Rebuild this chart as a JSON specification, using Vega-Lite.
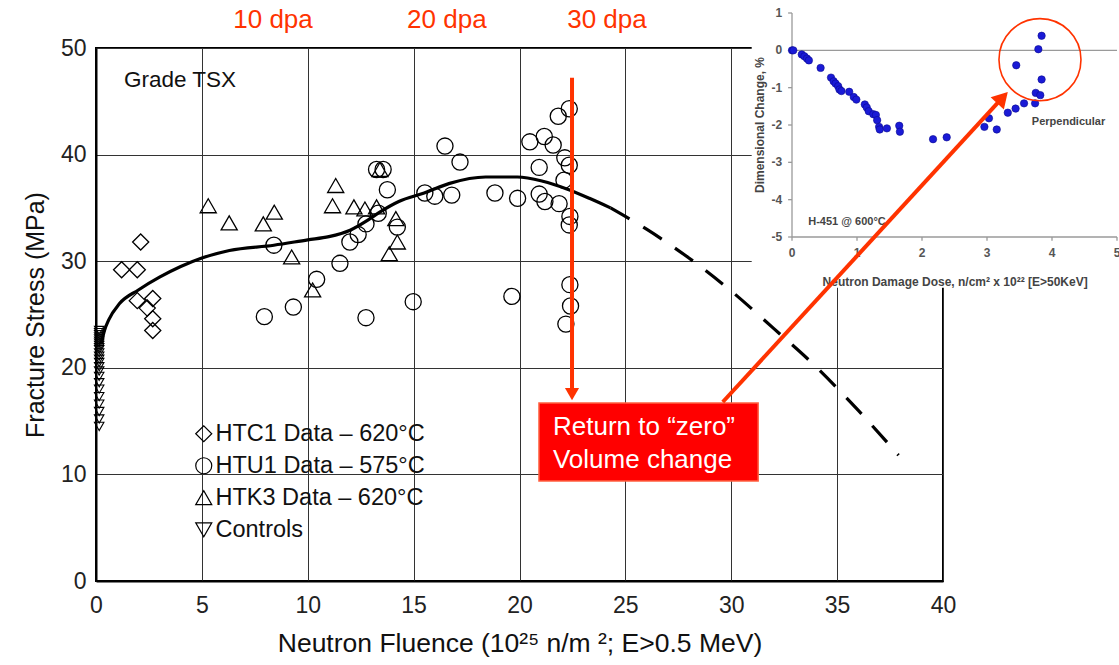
{
  "$schema": "https://vega.github.io/schema/vega-lite/v6.json",
  "width": 847,
  "height": 533,
  "autosize": {"type": "none"},
  "padding": {"left": 96, "top": 48, "right": 176, "bottom": 84},
  "background": "white",
  "config": {
    "view": {"stroke": "black", "strokeWidth": 2},
    "font": "Liberation Sans",
    "text": {"font": "Liberation Sans"}
  },
  "datasets": {
    "specimens": [
      {"series": "CTRL", "fluence": 0.15, "stress": 14.5},
      {"series": "CTRL", "fluence": 0.15, "stress": 15.2},
      {"series": "CTRL", "fluence": 0.15, "stress": 15.9},
      {"series": "CTRL", "fluence": 0.15, "stress": 16.6},
      {"series": "CTRL", "fluence": 0.15, "stress": 17.3},
      {"series": "CTRL", "fluence": 0.15, "stress": 18.0},
      {"series": "CTRL", "fluence": 0.15, "stress": 18.6},
      {"series": "CTRL", "fluence": 0.15, "stress": 19.2},
      {"series": "CTRL", "fluence": 0.15, "stress": 19.7},
      {"series": "CTRL", "fluence": 0.15, "stress": 20.1},
      {"series": "CTRL", "fluence": 0.15, "stress": 20.5},
      {"series": "CTRL", "fluence": 0.15, "stress": 20.8},
      {"series": "CTRL", "fluence": 0.15, "stress": 21.1},
      {"series": "CTRL", "fluence": 0.15, "stress": 21.4},
      {"series": "CTRL", "fluence": 0.15, "stress": 21.7},
      {"series": "CTRL", "fluence": 0.15, "stress": 21.9},
      {"series": "CTRL", "fluence": 0.15, "stress": 22.1},
      {"series": "CTRL", "fluence": 0.15, "stress": 22.3},
      {"series": "CTRL", "fluence": 0.15, "stress": 22.5},
      {"series": "CTRL", "fluence": 0.15, "stress": 22.7},
      {"series": "CTRL", "fluence": 0.15, "stress": 22.9},
      {"series": "CTRL", "fluence": 0.15, "stress": 23.1},
      {"series": "CTRL", "fluence": 0.15, "stress": 23.3},
      {"series": "CTRL", "fluence": 0.15, "stress": 23.5},
      {"series": "HTC1", "fluence": 2.11, "stress": 31.8},
      {"series": "HTC1", "fluence": 1.21, "stress": 29.2},
      {"series": "HTC1", "fluence": 1.95, "stress": 29.2},
      {"series": "HTC1", "fluence": 1.95, "stress": 26.3},
      {"series": "HTC1", "fluence": 2.68, "stress": 26.5},
      {"series": "HTC1", "fluence": 2.42, "stress": 25.6},
      {"series": "HTC1", "fluence": 2.68, "stress": 24.6},
      {"series": "HTC1", "fluence": 2.68, "stress": 23.5},
      {"series": "HTU1", "fluence": 8.40, "stress": 31.5},
      {"series": "HTU1", "fluence": 7.95, "stress": 24.8},
      {"series": "HTU1", "fluence": 9.32, "stress": 25.7},
      {"series": "HTU1", "fluence": 10.42, "stress": 28.3},
      {"series": "HTU1", "fluence": 11.52, "stress": 29.8},
      {"series": "HTU1", "fluence": 11.99, "stress": 31.8},
      {"series": "HTU1", "fluence": 12.38, "stress": 32.5},
      {"series": "HTU1", "fluence": 12.75, "stress": 33.5},
      {"series": "HTU1", "fluence": 13.33, "stress": 34.5},
      {"series": "HTU1", "fluence": 14.23, "stress": 33.2},
      {"series": "HTU1", "fluence": 13.76, "stress": 36.7},
      {"series": "HTU1", "fluence": 13.25, "stress": 38.6},
      {"series": "HTU1", "fluence": 13.56, "stress": 38.6},
      {"series": "HTU1", "fluence": 12.75, "stress": 24.7},
      {"series": "HTU1", "fluence": 14.98, "stress": 26.2},
      {"series": "HTU1", "fluence": 15.53, "stress": 36.4},
      {"series": "HTU1", "fluence": 16.0, "stress": 36.1},
      {"series": "HTU1", "fluence": 16.8, "stress": 36.2},
      {"series": "HTU1", "fluence": 16.48, "stress": 40.8},
      {"series": "HTU1", "fluence": 17.19, "stress": 39.3},
      {"series": "HTU1", "fluence": 18.84, "stress": 36.4},
      {"series": "HTU1", "fluence": 19.91, "stress": 35.9},
      {"series": "HTU1", "fluence": 19.64, "stress": 26.7},
      {"series": "HTU1", "fluence": 20.49, "stress": 41.2},
      {"series": "HTU1", "fluence": 21.17, "stress": 41.7},
      {"series": "HTU1", "fluence": 21.59, "stress": 40.9},
      {"series": "HTU1", "fluence": 21.83, "stress": 43.6},
      {"series": "HTU1", "fluence": 22.35, "stress": 44.3},
      {"series": "HTU1", "fluence": 20.93, "stress": 38.8},
      {"series": "HTU1", "fluence": 22.14, "stress": 39.7},
      {"series": "HTU1", "fluence": 22.35, "stress": 39.0},
      {"series": "HTU1", "fluence": 22.10, "stress": 37.6},
      {"series": "HTU1", "fluence": 20.93, "stress": 36.3},
      {"series": "HTU1", "fluence": 21.2, "stress": 35.6},
      {"series": "HTU1", "fluence": 21.87, "stress": 35.4},
      {"series": "HTU1", "fluence": 22.38, "stress": 34.2},
      {"series": "HTU1", "fluence": 22.35, "stress": 33.4},
      {"series": "HTU1", "fluence": 22.38, "stress": 27.8},
      {"series": "HTU1", "fluence": 22.41, "stress": 25.8},
      {"series": "HTU1", "fluence": 22.19, "stress": 24.1},
      {"series": "HTK3", "fluence": 5.30, "stress": 35.2},
      {"series": "HTK3", "fluence": 6.29, "stress": 33.6},
      {"series": "HTK3", "fluence": 7.9, "stress": 33.5},
      {"series": "HTK3", "fluence": 8.42, "stress": 34.6},
      {"series": "HTK3", "fluence": 9.24, "stress": 30.4},
      {"series": "HTK3", "fluence": 10.23, "stress": 27.3},
      {"series": "HTK3", "fluence": 11.32, "stress": 37.1},
      {"series": "HTK3", "fluence": 11.17, "stress": 35.2},
      {"series": "HTK3", "fluence": 12.18, "stress": 35.1},
      {"series": "HTK3", "fluence": 12.70, "stress": 34.9},
      {"series": "HTK3", "fluence": 13.25, "stress": 35.1},
      {"series": "HTK3", "fluence": 13.41, "stress": 38.6},
      {"series": "HTK3", "fluence": 14.16, "stress": 34.0},
      {"series": "HTK3", "fluence": 14.23, "stress": 31.8},
      {"series": "HTK3", "fluence": 13.85, "stress": 30.7}
    ],
    "trend": [
      {"part": "fit", "fluence": 0.25, "stress": 22.3},
      {"part": "fit", "fluence": 0.4, "stress": 23.5},
      {"part": "fit", "fluence": 0.6, "stress": 24.5},
      {"part": "fit", "fluence": 1.1, "stress": 26.0},
      {"part": "fit", "fluence": 2.0, "stress": 27.3},
      {"part": "fit", "fluence": 3.0, "stress": 28.5},
      {"part": "fit", "fluence": 4.0, "stress": 29.5},
      {"part": "fit", "fluence": 5.0, "stress": 30.3},
      {"part": "fit", "fluence": 6.3, "stress": 31.0},
      {"part": "fit", "fluence": 8.4, "stress": 31.5},
      {"part": "fit", "fluence": 10.0, "stress": 32.0},
      {"part": "fit", "fluence": 11.0, "stress": 32.3},
      {"part": "fit", "fluence": 12.0, "stress": 32.9},
      {"part": "fit", "fluence": 12.8, "stress": 33.8},
      {"part": "fit", "fluence": 13.4, "stress": 34.6},
      {"part": "fit", "fluence": 14.3, "stress": 35.6},
      {"part": "fit", "fluence": 15.5, "stress": 36.4},
      {"part": "fit", "fluence": 16.7, "stress": 37.3},
      {"part": "fit", "fluence": 18.4, "stress": 37.9},
      {"part": "fit", "fluence": 19.9, "stress": 37.9},
      {"part": "fit", "fluence": 21.1, "stress": 37.5},
      {"part": "fit", "fluence": 22.2, "stress": 36.8},
      {"part": "fit", "fluence": 23.3, "stress": 35.9},
      {"part": "fit", "fluence": 24.3, "stress": 35.0},
      {"part": "extrap", "fluence": 24.3, "stress": 35.0},
      {"part": "extrap", "fluence": 26.0, "stress": 33.0},
      {"part": "extrap", "fluence": 28.0, "stress": 30.3},
      {"part": "extrap", "fluence": 30.0, "stress": 27.2},
      {"part": "extrap", "fluence": 32.0, "stress": 23.7},
      {"part": "extrap", "fluence": 34.0, "stress": 20.1},
      {"part": "extrap", "fluence": 36.0, "stress": 16.0},
      {"part": "extrap", "fluence": 37.9, "stress": 11.8}
    ],
    "dpa": [
      {"label": "10 dpa", "fluence": 8.36},
      {"label": "20 dpa", "fluence": 16.57},
      {"label": "30 dpa", "fluence": 24.13}
    ],
    "h451": [
      {"dose": 0, "change": 0},
      {"dose": 0.02, "change": 0},
      {"dose": 0.15, "change": -0.11},
      {"dose": 0.19, "change": -0.16},
      {"dose": 0.23, "change": -0.22},
      {"dose": 0.26, "change": -0.27},
      {"dose": 0.44, "change": -0.47},
      {"dose": 0.6, "change": -0.73},
      {"dose": 0.64, "change": -0.83},
      {"dose": 0.67, "change": -0.89},
      {"dose": 0.71, "change": -0.96},
      {"dose": 0.73, "change": -1.05},
      {"dose": 0.76, "change": -1.09},
      {"dose": 0.88, "change": -1.11},
      {"dose": 0.95, "change": -1.25},
      {"dose": 0.99, "change": -1.32},
      {"dose": 1.12, "change": -1.45},
      {"dose": 1.15, "change": -1.53},
      {"dose": 1.18, "change": -1.63},
      {"dose": 1.25, "change": -1.71},
      {"dose": 1.29, "change": -1.73},
      {"dose": 1.31, "change": -1.87},
      {"dose": 1.34, "change": -2.05},
      {"dose": 1.35, "change": -2.12},
      {"dose": 1.46, "change": -2.09},
      {"dose": 1.65, "change": -2.02},
      {"dose": 1.66, "change": -2.18},
      {"dose": 2.17, "change": -2.38},
      {"dose": 2.38, "change": -2.33},
      {"dose": 2.96, "change": -2.05},
      {"dose": 3.03, "change": -1.82},
      {"dose": 3.15, "change": -2.12},
      {"dose": 3.32, "change": -1.67},
      {"dose": 3.44, "change": -1.56},
      {"dose": 3.57, "change": -1.42},
      {"dose": 3.74, "change": -1.42},
      {"dose": 3.75, "change": -1.14},
      {"dose": 3.82, "change": -1.2},
      {"dose": 3.84, "change": -0.78},
      {"dose": 3.45, "change": -0.4},
      {"dose": 3.79, "change": 0.03},
      {"dose": 3.84, "change": 0.39}
    ],
    "insetYTicks": [{"v": 1}, {"v": 0}, {"v": -1}, {"v": -2}, {"v": -3}, {"v": -4}, {"v": -5}],
    "insetXTicks": [{"v": 0}, {"v": 1}, {"v": 2}, {"v": 3}, {"v": 4}, {"v": 5}]
  },
  "layer": [
    {
      "layer": [
        {
          "data": {"name": "specimens"},
          "transform": [{"filter": "datum.series == 'CTRL'"}],
          "mark": {"type": "point", "filled": false, "stroke": "black", "strokeWidth": 1.1, "opacity": 1, "size": 90},
          "encoding": {
            "x": {
              "field": "fluence", "type": "quantitative",
              "scale": {"domain": [0, 40], "nice": false, "zero": false},
              "axis": {
                "values": [0, 5, 10, 15, 20, 25, 30, 35, 40],
                "grid": true, "gridColor": "#333333", "gridWidth": 1,
                "domainColor": "black", "domainWidth": 2, "ticks": false,
                "labelFlush": false, "labelOverlap": false,
                "labelFont": "Liberation Sans", "labelFontSize": 23, "labelColor": "#222222", "labelPadding": 13,
                "title": "Neutron Fluence (10²⁵  n/m ²; E>0.5 MeV)",
                "titleFont": "Liberation Sans", "titleFontSize": 26.5, "titleFontWeight": "normal", "titleColor": "#111111", "titlePadding": 13
              }
            },
            "y": {
              "field": "stress", "type": "quantitative",
              "scale": {"domain": [0, 50], "nice": false},
              "axis": {
                "values": [0, 10, 20, 30, 40, 50],
                "grid": true, "gridColor": "#333333", "gridWidth": 1,
                "domainColor": "black", "domainWidth": 2, "ticks": false,
                "labelOverlap": false,
                "labelFont": "Liberation Sans", "labelFontSize": 23, "labelColor": "#222222", "labelPadding": 10,
                "title": "Fracture Stress (MPa)",
                "titleFont": "Liberation Sans", "titleFontSize": 25, "titleFontWeight": "normal", "titleColor": "#111111", "titlePadding": 12
              }
            },
            "shape": {
              "field": "series", "type": "nominal",
              "scale": {"domain": ["HTC1", "HTU1", "HTK3", "CTRL"], "range": ["diamond", "circle", "triangle-up", "triangle-down"]},
              "legend": {
                "orient": "none", "legendX": 96, "legendY": 374, "title": null, "padding": 0,
                "labelExpr": "datum.label == 'HTC1' ? 'HTC1 Data – 620°C' : datum.label == 'HTU1' ? 'HTU1 Data – 575°C' : datum.label == 'HTK3' ? 'HTK3 Data – 620°C' : 'Controls'",
                "labelFont": "Liberation Sans", "labelFontSize": 23.5, "labelColor": "#111111", "labelLimit": 400, "labelOffset": 0,
                "symbolSize": 256, "symbolStrokeColor": "black", "symbolStrokeWidth": 1.2, "symbolFillColor": "transparent",
                "rowPadding": 7
              }
            }
          }
        },
        {
          "data": {"name": "specimens"},
          "transform": [{"filter": "datum.series != 'CTRL'"}],
          "mark": {"type": "point", "filled": false, "stroke": "black", "strokeWidth": 1.3, "opacity": 1, "size": 260},
          "encoding": {
            "x": {"field": "fluence", "type": "quantitative"},
            "y": {"field": "stress", "type": "quantitative"},
            "shape": {"field": "series", "type": "nominal"}
          }
        },
        {
          "data": {"name": "trend"},
          "transform": [{"filter": "datum.part == 'fit'"}],
          "mark": {"type": "line", "color": "black", "strokeWidth": 3.2, "interpolate": "monotone"},
          "encoding": {
            "x": {"field": "fluence", "type": "quantitative"},
            "y": {"field": "stress", "type": "quantitative"}
          }
        },
        {
          "data": {"name": "trend"},
          "transform": [{"filter": "datum.part == 'extrap'"}],
          "mark": {"type": "line", "color": "black", "strokeWidth": 3.2, "interpolate": "monotone", "strokeDash": [22, 16]},
          "encoding": {
            "x": {"field": "fluence", "type": "quantitative"},
            "y": {"field": "stress", "type": "quantitative"}
          }
        },
        {
          "data": {"name": "dpa"},
          "mark": {"type": "text", "fontSize": 26, "color": "#ff3300", "align": "center", "baseline": "middle"},
          "encoding": {
            "x": {"field": "fluence", "type": "quantitative"},
            "y": {"datum": 52.6},
            "text": {"field": "label"}
          }
        },
        {
          "data": {"values": [{"label": "Grade TSX"}]},
          "mark": {"type": "text", "fontSize": 22.5, "color": "#111111", "align": "left", "baseline": "middle"},
          "encoding": {
            "x": {"datum": 1.32},
            "y": {"datum": 47.0},
            "text": {"field": "label"}
          }
        },
        {
          "data": {"values": [{}]},
          "mark": {"type": "rect", "fill": "#ff0000", "stroke": "#ff6040", "strokeWidth": 1.5},
          "encoding": {
            "x": {"datum": 20.92},
            "x2": {"datum": 31.27},
            "y": {"datum": 16.70},
            "y2": {"datum": 9.38}
          }
        },
        {
          "data": {"values": [{"label": "Return to “zero”\nVolume change"}]},
          "mark": {"type": "text", "fontSize": 26, "color": "white", "align": "left", "baseline": "middle", "lineBreak": "\n", "lineHeight": 33},
          "encoding": {
            "x": {"datum": 21.58},
            "y": {"datum": 14.47},
            "text": {"field": "label"}
          }
        },
        {
          "data": {"values": [{}]},
          "mark": {"type": "rule", "stroke": "#ff3300", "strokeWidth": 4},
          "encoding": {
            "x": {"datum": 22.48},
            "y": {"datum": 47.2},
            "y2": {"datum": 17.8}
          }
        },
        {
          "data": {"values": [{}]},
          "mark": {"type": "point", "shape": "triangle-down", "filled": true, "color": "#ff3300", "size": 200, "opacity": 1},
          "encoding": {
            "x": {"datum": 22.48},
            "y": {"datum": 17.54}
          }
        }
      ]
    },
    {
      "layer": [
        {
          "data": {"values": [{}]},
          "mark": {"type": "rect", "fill": "white"},
          "encoding": {
            "x": {"datum": -0.62, "scale": {"domain": [0, 5], "range": [696, 1021], "nice": false, "zero": false}, "axis": null},
            "x2": {"datum": 5.2},
            "y": {"datum": 1.4, "scale": {"domain": [-5, 1], "range": [189, -35], "nice": false, "zero": false}, "axis": null},
            "y2": {"datum": -6.36}
          }
        },
        {
          "data": {"values": [{}]},
          "mark": {"type": "rule", "stroke": "#9a9a9a", "strokeWidth": 1.3},
          "encoding": {
            "x": {"datum": 0, "axis": null},
            "y": {"datum": 1, "axis": null},
            "y2": {"datum": -5}
          }
        },
        {
          "data": {"values": [{}]},
          "mark": {"type": "rule", "stroke": "#9a9a9a", "strokeWidth": 1.3},
          "encoding": {
            "x": {"datum": 0, "axis": null},
            "x2": {"datum": 5},
            "y": {"datum": -5, "axis": null}
          }
        },
        {
          "data": {"values": [{}]},
          "mark": {"type": "rule", "stroke": "#9a9a9a", "strokeWidth": 1.3},
          "encoding": {
            "x": {"datum": 0, "axis": null},
            "x2": {"datum": 5},
            "y": {"datum": 0, "axis": null}
          }
        },
        {
          "data": {"name": "insetYTicks"},
          "mark": {"type": "rule", "stroke": "#9a9a9a", "strokeWidth": 1.3},
          "encoding": {
            "x": {"datum": -0.06, "axis": null},
            "x2": {"datum": 0},
            "y": {"field": "v", "type": "quantitative", "axis": null}
          }
        },
        {
          "data": {"name": "insetXTicks"},
          "mark": {"type": "rule", "stroke": "#9a9a9a", "strokeWidth": 1.3},
          "encoding": {
            "x": {"field": "v", "type": "quantitative", "axis": null},
            "y": {"datum": -5, "axis": null},
            "y2": {"datum": -5.1}
          }
        },
        {
          "data": {"name": "insetYTicks"},
          "mark": {"type": "text", "fontSize": 12, "fontWeight": "bold", "color": "#555555", "align": "right", "baseline": "middle"},
          "encoding": {
            "x": {"datum": -0.15, "axis": null},
            "y": {"field": "v", "type": "quantitative", "axis": null},
            "text": {"field": "v", "type": "nominal"}
          }
        },
        {
          "data": {"name": "insetXTicks"},
          "mark": {"type": "text", "fontSize": 12, "fontWeight": "bold", "color": "#555555", "align": "center", "baseline": "middle"},
          "encoding": {
            "x": {"field": "v", "type": "quantitative", "axis": null},
            "y": {"datum": -5.42, "axis": null},
            "text": {"field": "v", "type": "nominal"}
          }
        },
        {
          "data": {"name": "h451"},
          "mark": {"type": "circle", "size": 55, "color": "#1a1ad6", "opacity": 1, "stroke": "#0a0a90", "strokeWidth": 0.6},
          "encoding": {
            "x": {"field": "dose", "type": "quantitative", "axis": null},
            "y": {"field": "change", "type": "quantitative", "axis": null}
          }
        },
        {
          "data": {"values": [{}]},
          "mark": {"type": "point", "shape": "circle", "filled": false, "stroke": "#ff3300", "strokeWidth": 1.6, "size": 6724, "opacity": 1},
          "encoding": {
            "x": {"datum": 3.815, "axis": null},
            "y": {"datum": -0.25, "axis": null}
          }
        },
        {
          "data": {"values": [{"label": "Perpendicular"}]},
          "mark": {"type": "text", "fontSize": 11, "fontWeight": "bold", "color": "#444444", "align": "left", "baseline": "middle"},
          "encoding": {
            "x": {"datum": 3.69, "axis": null},
            "y": {"datum": -1.93, "axis": null},
            "text": {"field": "label"}
          }
        },
        {
          "data": {"values": [{"label": "H-451 @ 600°C"}]},
          "mark": {"type": "text", "fontSize": 11, "fontWeight": "bold", "color": "#444444", "align": "left", "baseline": "middle"},
          "encoding": {
            "x": {"datum": 0.25, "axis": null},
            "y": {"datum": -4.6, "axis": null},
            "text": {"field": "label"}
          }
        },
        {
          "data": {"values": [{"label": "Neutron Damage Dose, n/cm² x 10²² [E>50KeV]"}]},
          "mark": {"type": "text", "fontSize": 12, "fontWeight": "bold", "color": "#444444", "align": "center", "baseline": "middle"},
          "encoding": {
            "x": {"datum": 2.51, "axis": null},
            "y": {"datum": -6.2, "axis": null},
            "text": {"field": "label"}
          }
        },
        {
          "data": {"values": [{"label": "Dimensional Change, %"}]},
          "mark": {"type": "text", "fontSize": 12, "fontWeight": "bold", "color": "#444444", "align": "center", "baseline": "middle", "angle": 270},
          "encoding": {
            "x": {"datum": -0.49, "axis": null},
            "y": {"datum": -2.0, "axis": null},
            "text": {"field": "label"}
          }
        }
      ]
    },
    {
      "layer": [
        {
          "data": {"values": [{}]},
          "mark": {"type": "rule", "stroke": "#ff3300", "strokeWidth": 4},
          "encoding": {
            "x": {"datum": 29.6, "scale": {"domain": [0, 40], "nice": false, "zero": false}, "axis": null},
            "x2": {"datum": 42.81},
            "y": {"datum": 16.79, "scale": {"domain": [0, 50], "nice": false, "zero": false}, "axis": null},
            "y2": {"datum": 45.34}
          }
        },
        {
          "data": {"values": [{}]},
          "mark": {"type": "point", "shape": "triangle-up", "angle": 42.6, "filled": true, "color": "#ff3300", "size": 324, "opacity": 1},
          "encoding": {
            "x": {"datum": 42.81, "axis": null},
            "y": {"datum": 45.34, "axis": null}
          }
        }
      ]
    }
  ],
  "resolve": {"scale": {"x": "independent", "y": "independent"}}
}
